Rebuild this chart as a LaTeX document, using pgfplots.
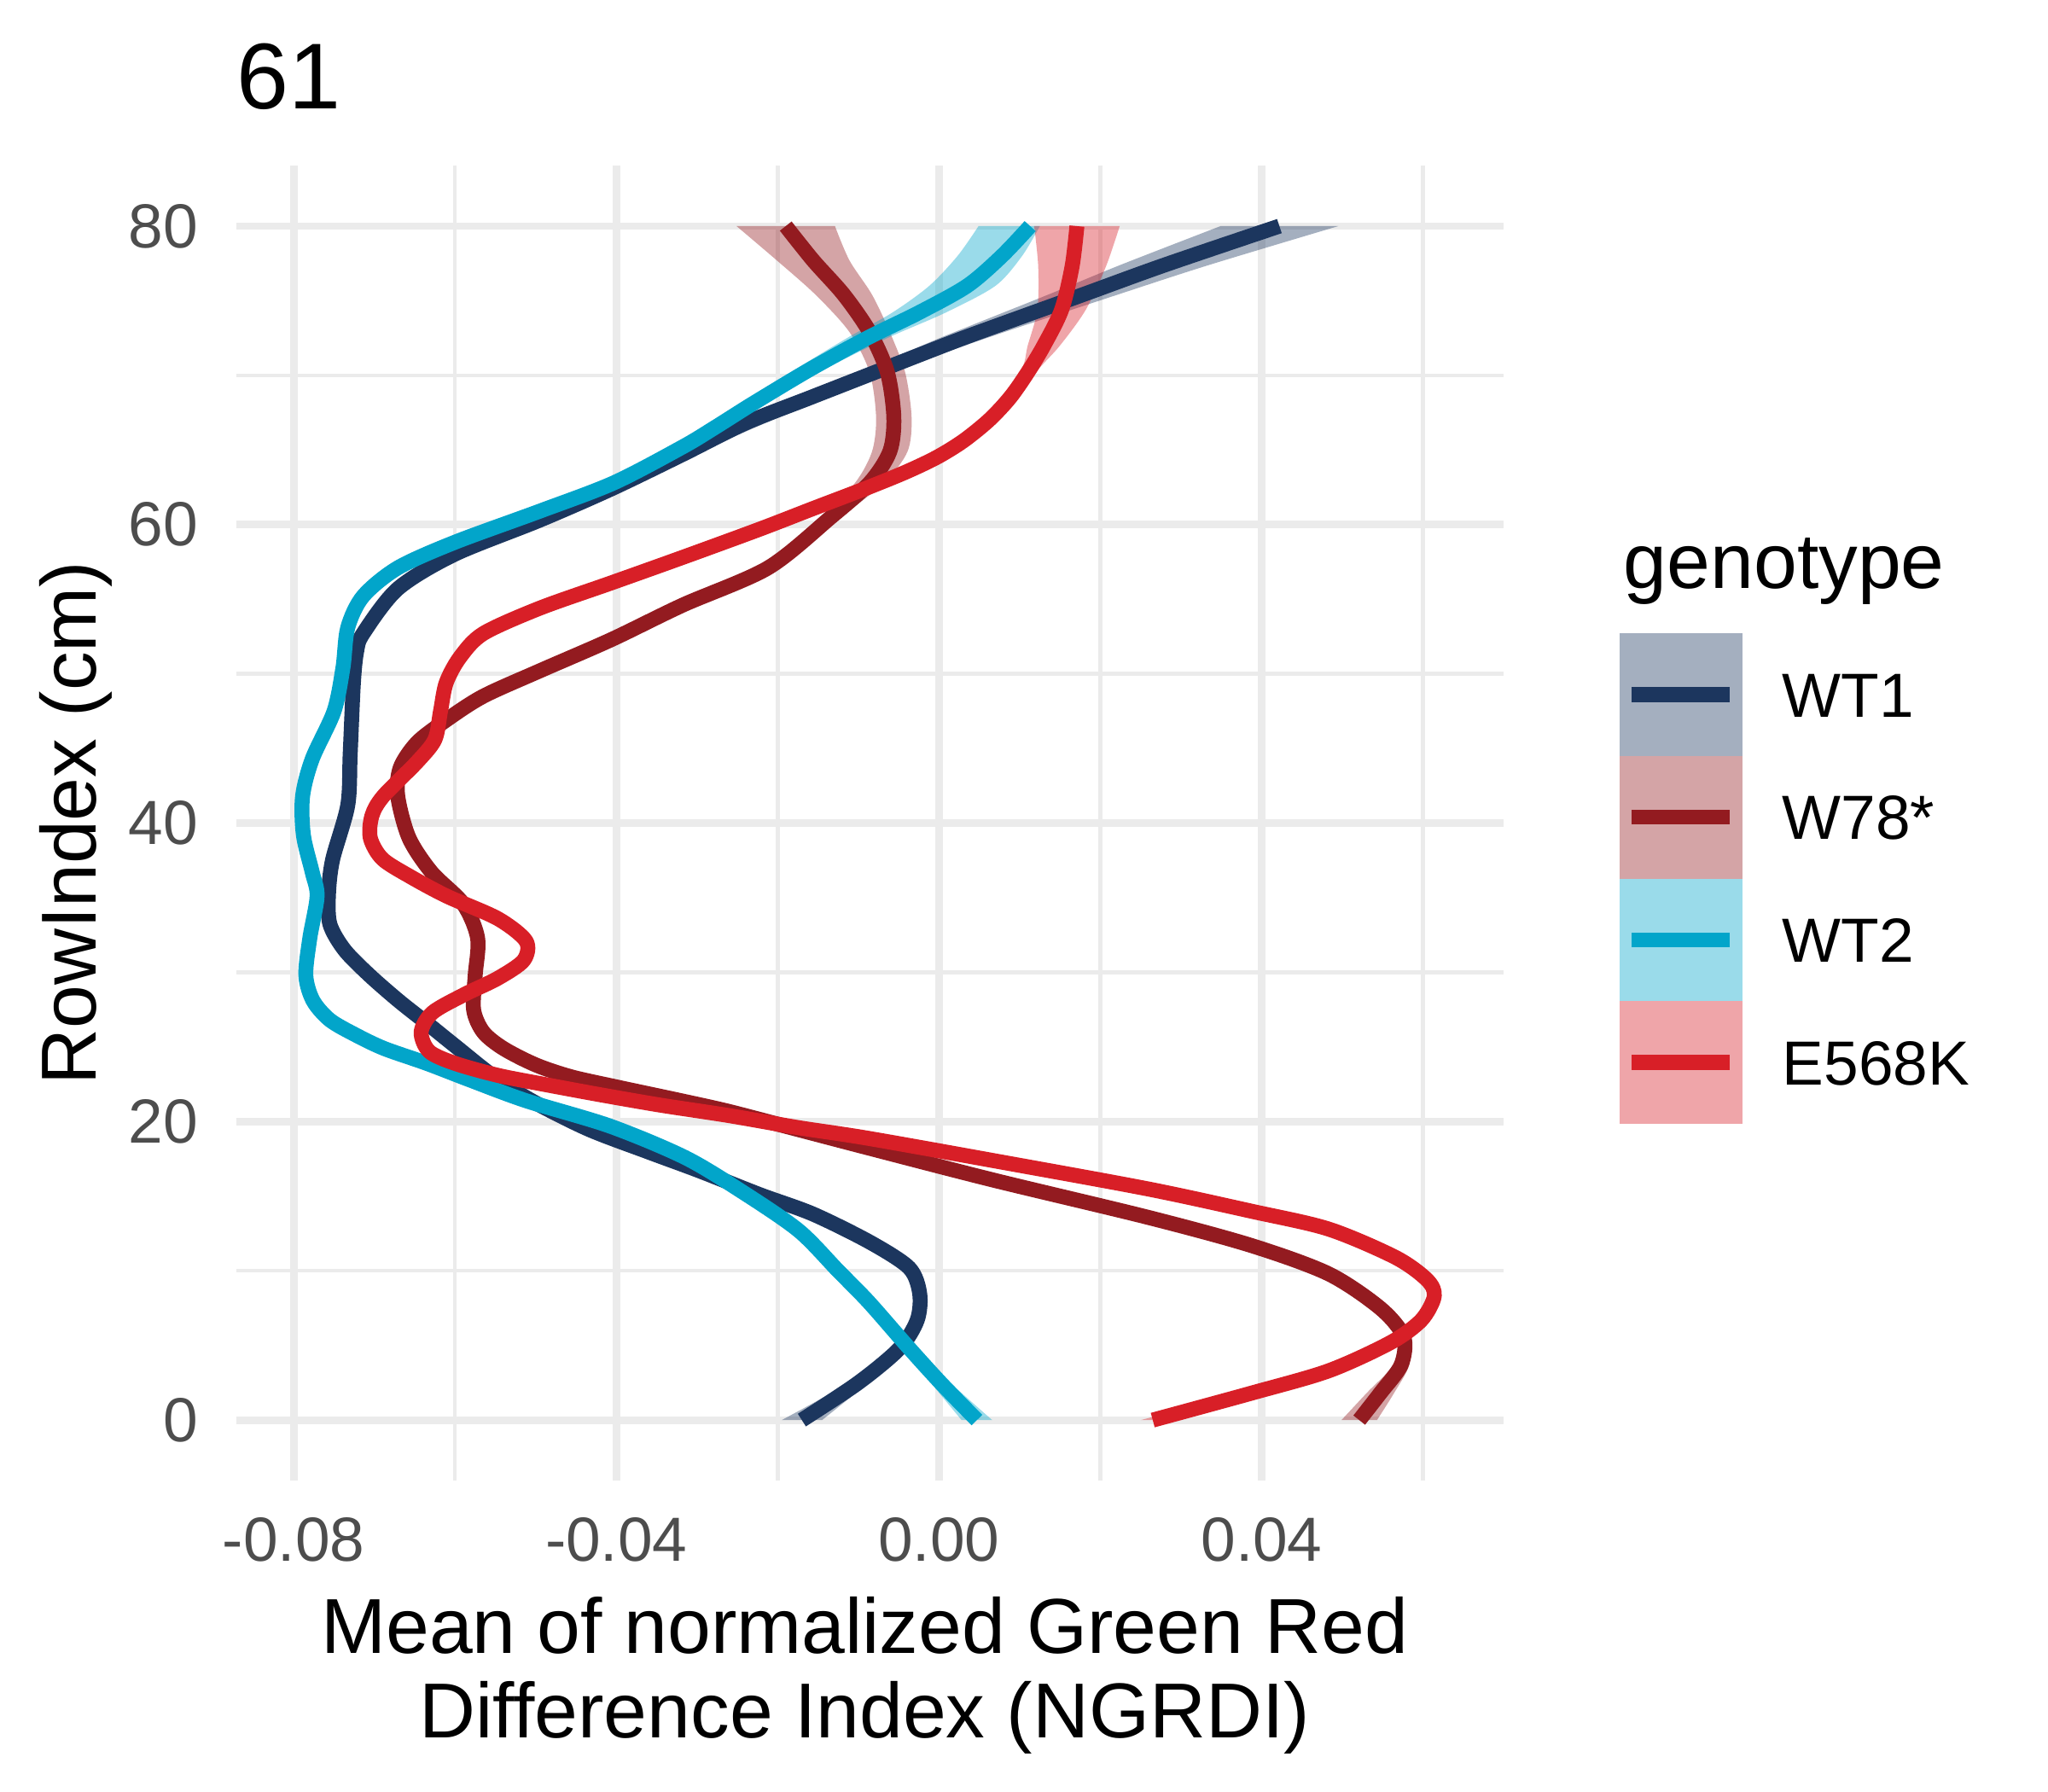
\documentclass[border=0pt]{standalone}
\usepackage{pgfplots}
\pgfplotsset{compat=1.18}
\usepgfplotslibrary{fillbetween}
\usepackage{fontspec}
\setmainfont{Liberation Sans}
\definecolor{cWTa}{HTML}{1C365E}
\definecolor{cW78}{HTML}{931B20}
\definecolor{cWTb}{HTML}{02A5CA}
\definecolor{cE56}{HTML}{D81F27}
\definecolor{gridc}{HTML}{EBEBEB}
\definecolor{tickc}{HTML}{4D4D4D}
\begin{document}
\begin{tikzpicture}
\begin{axis}[
  at={(0,0)}, anchor=south west,
  scale only axis, width=356.4bp, height=369.8bp,
  xmin=-0.0871, xmax=0.0700, ymin=-4.05, ymax=84.05,
  scaled x ticks=false, scaled y ticks=false,
  axis line style={draw=none}, tick style={draw=none},
  xtick={-0.08,-0.04,0,0.04}, xticklabels={-0.08,-0.04,0.00,0.04},
  ytick={0,20,40,60,80}, yticklabels={0,20,40,60,80},
  minor xtick={-0.06,-0.02,0.02,0.06}, minor ytick={10,30,50,70},
  grid=both,
  major grid style={line width=2.13bp, color=gridc},
  minor grid style={line width=1.07bp, color=gridc},
  xticklabel style={font=\fontsize{17.6}{20}\selectfont, text=tickc, anchor=north, inner sep=0pt, yshift=-10.3bp},
  yticklabel style={font=\fontsize{17.6}{20}\selectfont, text=tickc, anchor=east, inner sep=0pt, xshift=-10.6bp},
  xlabel={Mean of normalized Green Red\\Difference Index (NGRDI)},
  xlabel style={at={(axis description cs:0.5,0)}, anchor=north, inner sep=0pt, yshift=-32.4bp, xshift=-1.5bp, align=center, font=\fontsize{22}{24}\selectfont},
  ylabel={RowIndex (cm)},
  ylabel style={at={(axis description cs:-0.1106,0.5)}, anchor=base, inner sep=0pt, font=\fontsize{22}{24}\selectfont},
  line join=round,
]
% ---------- WT1 ----------
\addplot[draw=none, name path=a1lo, smooth] coordinates {(-0.0418,62.4) (-0.0332,64.7) (-0.0179,68.5) (-0.0043,71.5) (0.0010,72.7) (0.0135,75.4) (0.0225,77.4) (0.0349,80)};
\addplot[draw=none, name path=a1hi, smooth] coordinates {(-0.0394,62.4) (-0.0304,64.7) (-0.0141,68.5) (0.0007,71.5) (0.0070,72.7) (0.0221,75.4) (0.0335,77.4) (0.0495,80)};
\addplot[cWTa, fill opacity=0.4, draw=none] fill between[of=a1lo and a1hi];
\addplot[draw=none, name path=b1lo, smooth] coordinates {(-0.0195,0) (-0.0112,2.5) (-0.0056,4.8)};
\addplot[draw=none, name path=b1hi, smooth] coordinates {(-0.0145,0) (-0.0088,2.5) (-0.0042,4.8)};
\addplot[cWTa, fill opacity=0.4, draw=none] fill between[of=b1lo and b1hi];
\addplot[cWTa, line width=4.2bp, smooth] coordinates {
(-0.0170,0) (-0.0100,2.5) (-0.0049,4.8) (-0.0027,6.7) (-0.0024,8.5) (-0.0037,10.2)
(-0.0085,11.9) (-0.0156,13.8) (-0.0222,15.1) (-0.0297,16.7) (-0.0362,18.0) (-0.0435,19.5)
(-0.0505,21.4) (-0.0554,23.1) (-0.0596,24.9) (-0.0635,26.6) (-0.0670,28.1) (-0.0706,29.8)
(-0.0737,31.5) (-0.0755,33.2) (-0.0757,35.1) (-0.0752,37.5) (-0.0733,41.2) (-0.0730,44.6)
(-0.0726,49.4) (-0.0722,51.5) (-0.0714,52.7) (-0.0671,55.7) (-0.0601,58.0) (-0.0495,60.3)
(-0.0406,62.4) (-0.0318,64.7) (-0.0240,66.8) (-0.0160,68.5) (-0.0089,70.0) (-0.0018,71.5)
(0.0040,72.7) (0.0178,75.4) (0.0280,77.4) (0.0422,80)};
% ---------- W78* ----------
\addplot[draw=none, name path=a2lo, smooth] coordinates {(-0.0220,57.1) (-0.0146,60.5) (-0.0104,62.8) (-0.0083,64.9) (-0.0078,67.2) (-0.0086,70.2) (-0.0111,72.9) (-0.0153,75.4) (-0.0201,77.7) (-0.0251,80)};
\addplot[draw=none, name path=a2hi, smooth] coordinates {(-0.0204,57.1) (-0.0122,60.5) (-0.0068,62.8) (-0.0039,64.9) (-0.0034,67.2) (-0.0042,70.2) (-0.0061,72.9) (-0.0083,75.4) (-0.0111,77.7) (-0.0129,80)};
\addplot[cW78, fill opacity=0.4, draw=none] fill between[of=a2lo and a2hi];
\addplot[draw=none, name path=b2lo, smooth] coordinates {(0.0499,0) (0.0530,1.8) (0.0563,3.7) (0.0570,5.6)};
\addplot[draw=none, name path=b2hi, smooth] coordinates {(0.0543,0) (0.0564,1.8) (0.0583,3.7) (0.0582,5.6)};
\addplot[cW78, fill opacity=0.4, draw=none] fill between[of=b2lo and b2hi];
\addplot[cW78, line width=4.2bp, smooth] coordinates {
(0.0521,0) (0.0547,1.8) (0.0573,3.7) (0.0576,5.6) (0.0547,7.5) (0.0483,9.8) (0.0387,11.7)
(0.0258,13.6) (0.0066,16.1) (-0.0085,18.2) (-0.0191,19.7) (-0.0262,20.7) (-0.0320,21.4)
(-0.0398,22.3) (-0.0456,23.0) (-0.0500,23.8) (-0.0540,24.9) (-0.0565,26.0) (-0.0577,27.5)
(-0.0575,29.8) (-0.0572,32.3) (-0.0590,34.6) (-0.0629,36.7) (-0.0657,39.0) (-0.0671,41.8)
(-0.0668,43.7) (-0.0647,45.4) (-0.0611,46.9) (-0.0565,48.5) (-0.0495,50.2) (-0.0406,52.3)
(-0.0318,54.6) (-0.0212,57.1) (-0.0134,60.5) (-0.0086,62.8) (-0.0061,64.9) (-0.0056,67.2)
(-0.0064,70.2) (-0.0086,72.9) (-0.0118,75.4) (-0.0156,77.7) (-0.0190,80)};
% ---------- WT2 ----------
\addplot[draw=none, name path=a3lo, smooth] coordinates {(-0.0413,62.8) (-0.0330,65.2) (-0.0245,68.1) (-0.0178,70.4) (-0.0114,72.5) (-0.0058,74.2) (-0.0012,76.0) (0.0023,78.0) (0.0049,80)};
\addplot[draw=none, name path=a3hi, smooth] coordinates {(-0.0393,62.8) (-0.0306,65.2) (-0.0217,68.1) (-0.0142,70.4) (-0.0064,72.5) (0.0008,74.2) (0.0070,76.0) (0.0103,78.0) (0.0125,80)};
\addplot[cWTb, fill opacity=0.4, draw=none] fill between[of=a3lo and a3hi];
\addplot[draw=none, name path=b3lo, smooth] coordinates {(0.0028,0) (-0.0010,2.5) (-0.0046,5.0)};
\addplot[draw=none, name path=b3hi, smooth] coordinates {(0.0066,0) (0.0014,2.5) (-0.0034,5.0)};
\addplot[cWTb, fill opacity=0.4, draw=none] fill between[of=b3lo and b3hi];
\addplot[cWTb, line width=4.2bp, smooth] coordinates {
(0.0047,0) (0.0002,2.5) (-0.0040,5.0) (-0.0087,7.9) (-0.0125,10.0) (-0.0174,12.7)
(-0.0244,15.3) (-0.0315,17.6) (-0.0408,19.7) (-0.0512,21.4) (-0.0582,22.8) (-0.0635,23.9)
(-0.0688,24.9) (-0.0723,25.8) (-0.0755,26.8) (-0.0776,28.1) (-0.0785,29.8) (-0.0780,32.3)
(-0.0771,35.1) (-0.0777,36.7) (-0.0788,39.2) (-0.0789,41.8) (-0.0777,44.3) (-0.0750,47.5)
(-0.0739,50.4) (-0.0733,53.1) (-0.0714,55.2) (-0.0671,57.1) (-0.0601,58.8) (-0.0495,60.9)
(-0.0403,62.8) (-0.0318,65.2) (-0.0278,66.5) (-0.0231,68.1) (-0.0160,70.4) (-0.0089,72.5)
(-0.0025,74.2) (0.0035,76.0) (0.0078,78.0) (0.0113,80)};
% ---------- E568K ----------
\addplot[draw=none, name path=a4lo, smooth] coordinates {(-0.0100,62.4) (-0.0012,64.5) (0.0050,67.0) (0.0100,70.2) (0.0110,72.0) (0.0122,74.4) (0.0123,77.3) (0.0118,80)};
\addplot[draw=none, name path=a4hi, smooth] coordinates {(-0.0084,62.4) (0.0006,64.5) (0.0074,67.0) (0.0120,70.2) (0.0150,72.0) (0.0182,74.4) (0.0207,77.3) (0.0224,80)};
\addplot[cE56, fill opacity=0.4, draw=none] fill between[of=a4lo and a4hi];
\addplot[draw=none, name path=b4lo, smooth] coordinates {(0.0250,0) (0.0377,1.8) (0.0477,3.3)};
\addplot[draw=none, name path=b4hi, smooth] coordinates {(0.0280,0) (0.0397,1.8) (0.0489,3.3)};
\addplot[cE56, fill opacity=0.4, draw=none] fill between[of=b4lo and b4hi];
\addplot[cE56, line width=4.2bp, smooth] coordinates {
(0.0265,0) (0.0387,1.8) (0.0483,3.3) (0.0560,5.2) (0.0598,6.7) (0.0614,8.3) (0.0605,9.4)
(0.0566,10.9) (0.0483,12.8) (0.0387,14.0) (0.0258,15.5) (0.0066,17.4) (-0.0090,18.9)
(-0.0175,19.6) (-0.0260,20.4) (-0.0345,21.1) (-0.0420,21.8) (-0.0490,22.5) (-0.0547,23.1)
(-0.0600,23.9) (-0.0632,24.7) (-0.0642,26.0) (-0.0628,27.3) (-0.0589,28.5) (-0.0547,29.6)
(-0.0515,30.8) (-0.0512,32.1) (-0.0547,33.6) (-0.0610,35.1) (-0.0655,36.4) (-0.0690,37.6)
(-0.0705,39.0) (-0.0703,40.5) (-0.0689,41.8) (-0.0647,44.1) (-0.0625,45.6) (-0.0618,47.5)
(-0.0611,49.4) (-0.0594,51.1) (-0.0565,52.7) (-0.0495,54.4) (-0.0406,56.1) (-0.0318,57.8)
(-0.0222,59.7) (-0.0155,61.1) (-0.0092,62.4) (-0.0042,63.5) (-0.0003,64.5) (0.0030,65.6)
(0.0062,67.0) (0.0088,68.5) (0.0110,70.2) (0.0130,72.0) (0.0152,74.4) (0.0165,77.3) (0.0171,80)};
\end{axis}
% title
\node[anchor=base west, inner sep=0pt, font=\fontsize{26.4}{30}\selectfont] at (0bp,385.9bp) {61};
% legend
\node[anchor=base west, inner sep=0pt, font=\fontsize{22}{24}\selectfont] at (390bp,251.0bp) {genotype};
\fill[cWTa, opacity=0.4] (389.0bp,203.8bp) rectangle (423.6bp,238.3bp);
\fill[cW78, opacity=0.4] (389.0bp,169.3bp) rectangle (423.6bp,203.8bp);
\fill[cWTb, opacity=0.4] (389.0bp,134.8bp) rectangle (423.6bp,169.3bp);
\fill[cE56, opacity=0.4] (389.0bp,100.3bp) rectangle (423.6bp,134.8bp);
\draw[cWTa, line width=4.2bp] (392.4bp,221.05bp) -- (420.0bp,221.05bp);
\draw[cW78, line width=4.2bp] (392.4bp,186.55bp) -- (420.0bp,186.55bp);
\draw[cWTb, line width=4.2bp] (392.4bp,152.05bp) -- (420.0bp,152.05bp);
\draw[cE56, line width=4.2bp] (392.4bp,117.55bp) -- (420.0bp,117.55bp);
\begin{scope}[every node/.style={anchor=base west, inner sep=0pt, font=\fontsize{17.6}{20}\selectfont}]
\node at (434.6bp,214.75bp) {WT1};
\node at (434.6bp,180.25bp) {W78*};
\node at (434.6bp,145.75bp) {WT2};
\node at (434.6bp,111.25bp) {E568K};
\end{scope}
\pgfresetboundingbox
\path[use as bounding box] (-66.5bp,-87.6bp) rectangle (509.5bp,416.4bp);
\end{tikzpicture}
\end{document}
